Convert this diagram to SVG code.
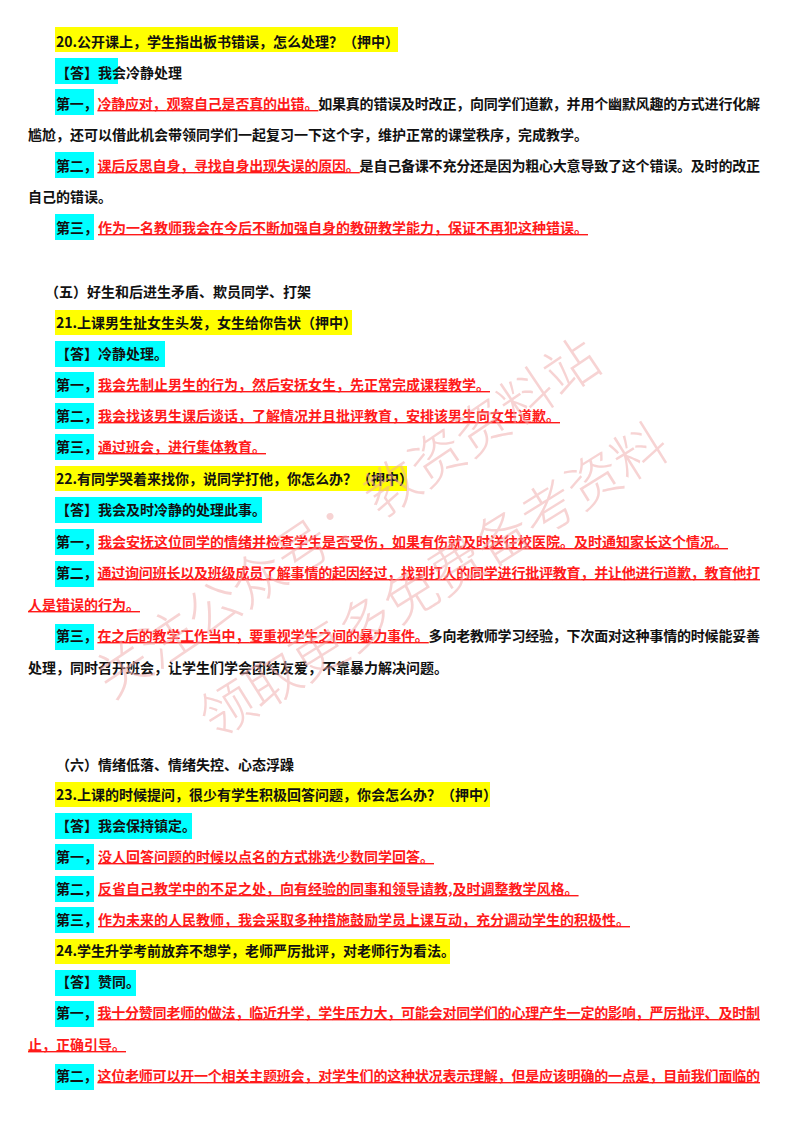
<svg xmlns="http://www.w3.org/2000/svg" width="800" height="1132" viewBox="0 0 800 1132">
<style>
text{font-family:"Noto Sans CJK SC","Liberation Sans",sans-serif;font-size:14px;font-weight:bold;fill:#111}
.r{fill:#ff1a1a;text-decoration:underline}
.y{fill:#ffff00}
.c{fill:#00ffff}
.wm{font-size:54px;font-weight:300;fill:#f0a8a8;opacity:0.5}
</style>
<rect width="800" height="1132" fill="#fff"/>
<g id="highlights">
<rect class="y" x="55" y="27" width="343" height="25"/>
<rect class="c" x="55" y="58" width="63" height="26"/>
<rect class="c" x="55" y="89" width="39" height="26"/>
<rect class="c" x="55" y="152" width="39" height="26"/>
<rect class="c" x="55" y="214" width="39" height="26"/>
<rect class="y" x="55" y="310" width="297" height="25"/>
<rect class="c" x="55" y="341" width="110" height="26"/>
<rect class="c" x="55" y="372" width="39" height="26"/>
<rect class="c" x="55" y="403" width="39" height="26"/>
<rect class="c" x="55" y="434" width="39" height="26"/>
<rect class="y" x="55" y="466" width="352" height="25"/>
<rect class="c" x="55" y="497" width="207" height="26"/>
<rect class="c" x="55" y="529" width="39" height="26"/>
<rect class="c" x="55" y="561" width="39" height="26"/>
<rect class="c" x="55" y="624" width="39" height="26"/>
<rect class="y" x="55" y="782" width="435" height="25"/>
<rect class="c" x="55" y="813" width="137" height="26"/>
<rect class="c" x="55" y="844" width="39" height="26"/>
<rect class="c" x="55" y="876" width="39" height="26"/>
<rect class="c" x="55" y="907" width="39" height="26"/>
<rect class="y" x="55" y="939" width="395" height="25"/>
<rect class="c" x="55" y="970" width="81" height="26"/>
<rect class="c" x="55" y="1001" width="39" height="26"/>
<rect class="c" x="55" y="1064" width="39" height="26"/>
</g>
<g id="text">
<text x="56" y="47">20.公开课上，学生指出板书错误，怎么处理？（押中）</text>
<text x="56" y="78">【答】我会冷静处理</text>
<text x="56" y="109" textLength="704" lengthAdjust="spacing">第一，<tspan class="r">冷静应对，观察自己是否真的出错。</tspan>如果真的错误及时改正，向同学们道歉，并用个幽默风趣的方式进行化解</text>
<text x="28" y="140">尴尬，还可以借此机会带领同学们一起复习一下这个字，维护正常的课堂秩序，完成教学。</text>
<text x="56" y="171" textLength="704" lengthAdjust="spacing">第二，<tspan class="r">课后反思自身，寻找自身出现失误的原因。</tspan>是自己备课不充分还是因为粗心大意导致了这个错误。及时的改正</text>
<text x="28" y="202">自己的错误。</text>
<text x="56" y="233">第三，<tspan class="r">作为一名教师我会在今后不断加强自身的教研教学能力，保证不再犯这种错误。</tspan></text>
<text x="45" y="297">（五）好生和后进生矛盾、欺员同学、打架</text>
<text x="56" y="328">21.上课男生扯女生头发，女生给你告状（押中）</text>
<text x="56" y="359">【答】冷静处理。</text>
<text x="56" y="390">第一，<tspan class="r">我会先制止男生的行为，然后安抚女生，先正常完成课程教学。</tspan></text>
<text x="56" y="421">第二，<tspan class="r">我会找该男生课后谈话，了解情况并且批评教育，安排该男生向女生道歉。</tspan></text>
<text x="56" y="452">第三，<tspan class="r">通过班会，进行集体教育。</tspan></text>
<text x="56" y="484">22.有同学哭着来找你，说同学打他，你怎么办？（押中）</text>
<text x="56" y="515">【答】我会及时冷静的处理此事。</text>
<text x="56" y="547">第一，<tspan class="r">我会安抚这位同学的情绪并检查学生是否受伤，如果有伤就及时送往校医院。及时通知家长这个情况。</tspan></text>
<text x="56" y="578" textLength="704" lengthAdjust="spacing">第二，<tspan class="r">通过询问班长以及班级成员了解事情的起因经过，找到打人的同学进行批评教育，并让他进行道歉，教育他打</tspan></text>
<text x="28" y="610"><tspan class="r">人是错误的行为。</tspan></text>
<text x="56" y="641" textLength="704" lengthAdjust="spacing">第三，<tspan class="r">在之后的教学工作当中，要重视学生之间的暴力事件。</tspan>多向老教师学习经验，下次面对这种事情的时候能妥善</text>
<text x="28" y="673">处理，同时召开班会，让学生们学会团结友爱，不靠暴力解决问题。</text>
<text x="56" y="770">（六）情绪低落、情绪失控、心态浮躁</text>
<text x="56" y="800">23.上课的时候提问，很少有学生积极回答问题，你会怎么办？（押中）</text>
<text x="56" y="831">【答】我会保持镇定。</text>
<text x="56" y="862">第一，<tspan class="r">没人回答问题的时候以点名的方式挑选少数同学回答。</tspan></text>
<text x="56" y="894">第二，<tspan class="r">反省自己教学中的不足之处，向有经验的同事和领导请教,及时调整教学风格。</tspan></text>
<text x="56" y="925">第三，<tspan class="r">作为未来的人民教师，我会采取多种措施鼓励学员上课互动，充分调动学生的积极性。</tspan></text>
<text x="56" y="956">24.学生升学考前放弃不想学，老师严厉批评，对老师行为看法。</text>
<text x="56" y="987">【答】赞同。</text>
<text x="56" y="1018" textLength="704" lengthAdjust="spacing">第一，<tspan class="r">我十分赞同老师的做法，临近升学，学生压力大，可能会对同学们的心理产生一定的影响，严厉批评、及时制</tspan></text>
<text x="28" y="1050"><tspan class="r">止，正确引导。</tspan></text>
<text x="56" y="1081" textLength="704" lengthAdjust="spacing">第二，<tspan class="r">这位老师可以开一个相关主题班会，对学生们的这种状况表示理解，但是应该明确的一点是，目前我们面临的</tspan></text>
</g>
<g id="watermark">
<text class="wm" transform="translate(112,700) rotate(-34)">关注公众号：教资资料站</text>
<text class="wm" transform="translate(215,740) rotate(-32)">领取更多免费备考资料</text>
</g>
</svg>
